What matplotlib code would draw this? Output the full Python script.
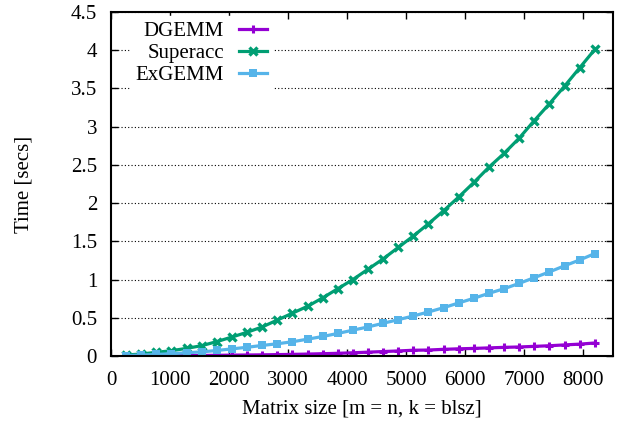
import matplotlib
matplotlib.use("Agg")
from matplotlib import pyplot as plt

# matrix sizes 256, 512, ..., 8192
sizes = [256 * k for k in range(1, 33)]

dgemm = [0.001, 0.002, 0.003, 0.004, 0.005, 0.007, 0.009, 0.011, 0.013, 0.015,
         0.018, 0.021, 0.025, 0.030, 0.035, 0.042, 0.050, 0.058, 0.066, 0.075,
         0.078, 0.087, 0.094, 0.099, 0.106, 0.113, 0.118, 0.126, 0.134, 0.145,
         0.155, 0.170]

superacc = [0.013, 0.026, 0.048, 0.069, 0.100, 0.135, 0.188, 0.248, 0.310, 0.380,
            0.470, 0.560, 0.650, 0.760, 0.880, 1.000, 1.135, 1.270, 1.420, 1.570,
            1.730, 1.900, 2.080, 2.270, 2.470, 2.650, 2.850, 3.080, 3.300, 3.530,
            3.770, 4.010]

exgemm = [0.005, 0.012, 0.020, 0.030, 0.042, 0.054, 0.072, 0.093, 0.114, 0.138,
          0.160, 0.186, 0.220, 0.255, 0.295, 0.338, 0.380, 0.428, 0.475, 0.524,
          0.576, 0.632, 0.694, 0.755, 0.820, 0.880, 0.950, 1.025, 1.100, 1.180,
          1.256, 1.340]

plt.rcParams['font.family'] = ['Liberation Serif', 'DejaVu Serif']
plt.rcParams['font.size'] = 15

fig = plt.figure(figsize=(6.21, 4.24), dpi=100)
ax = fig.add_axes([0.1787, 0.1604, 0.8084, 0.8113])

ax.plot(sizes, dgemm, color='#9400D3', lw=2.3, marker='+', ms=6, mew=2.2,
        label='DGEMM')
ax.plot(sizes, superacc, color='#009E73', lw=2.3, marker='x', ms=6, mew=2.4,
        label='Superacc')
ax.plot(sizes, exgemm, color='#56B4E9', lw=2.3, marker='s', ms=5.5, mew=0,
        label='ExGEMM')

# Set axis
ax.set_xlim(0, 8500)
ax.set_ylim(0, 4.5)
ax.set_xticks(range(0, 8001, 1000))
ax.set_yticks([0, 0.5, 1, 1.5, 2, 2.5, 3, 3.5, 4, 4.5])
ax.set_yticklabels(['0', '0.5', '1', '1.5', '2', '2.5', '3', '3.5', '4', '4.5'])
ax.tick_params(direction='in', top=True, right=True, length=5, width=1,
               colors='black')
ax.tick_params(axis='y', pad=10)
ax.tick_params(axis='x', pad=11)
ax.yaxis.grid(True, linestyle=(0, (1, 2)), color='black', lw=0.8)
ax.set_axisbelow(True)
for sp in ax.spines.values():
    sp.set_linewidth(1.5)

ax.set_xlabel('Matrix size [m = n, k = blsz]', labelpad=7)
ax.set_ylabel('Time [secs]', labelpad=27)

leg = ax.legend(loc='upper left', bbox_to_anchor=(0.03, 1.0), markerfirst=False,
                frameon=True, fancybox=False, edgecolor='white', framealpha=1,
                handlelength=1.35, labelspacing=0.12, borderpad=0.25,
                handletextpad=0.72, borderaxespad=0.2)
for t in leg.get_texts():
    t.set_ha('right')
leg._legend_box.align = 'right'

fig.savefig('out.png', dpi=100)
